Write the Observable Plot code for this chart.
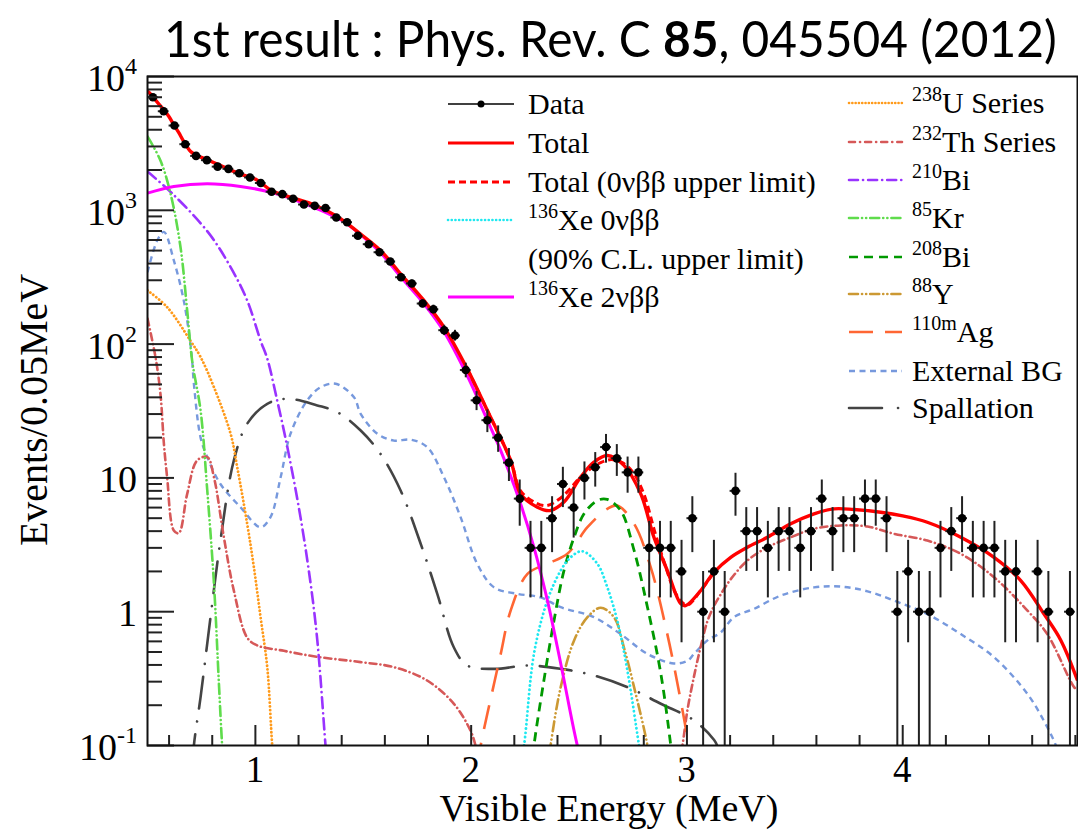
<!DOCTYPE html>
<html><head><meta charset="utf-8">
<script src="https://cdn.jsdelivr.net/npm/d3@7"></script>
<script src="https://cdn.jsdelivr.net/npm/@observablehq/plot@0.6"></script>
<style>
body{margin:0;background:#fff;}
#wrap{width:1078px;height:832px;position:relative;overflow:hidden;}
svg{display:block;}
#title{position:absolute;left:0;top:0;pointer-events:none;}
</style></head><body><div id="wrap"></div>
<script>
// ---------- Data (Events / 0.05 MeV) ----------
const dataE = [0.525,0.575,0.625,0.675,0.725,0.775,0.825,0.875,0.925,0.975,1.025,1.075,1.125,1.175,1.225,1.275,1.325,1.375,1.425,1.475,1.525,1.575,1.625,1.675,1.725,1.775,1.825,1.875,1.925,1.975,2.025,2.075,2.125,2.175,2.225,2.275,2.325,2.375,2.425,2.475,2.525,2.575,2.625,2.675,2.725,2.775,2.825,2.875,2.925,2.975,3.025,3.075,3.125,3.175,3.225,3.275,3.325,3.375,3.425,3.475,3.525,3.575,3.625,3.675,3.725,3.775,3.825,3.875,3.925,3.975,4.025,4.075,4.125,4.175,4.225,4.275,4.325,4.375,4.425,4.475,4.525,4.625,4.675,4.775];
const dataN = [7000,5500,4300,3120,2550,2370,2120,2040,1890,1760,1600,1375,1320,1220,1105,1080,1040,883,815,645,558,486,414,316,284,201,182,127,116,64,38,27,20,13,7,3,3,5,9,6,10,12,17,14,11,11,3,3,3,2,5,1,2,1,8,4,4,3,4,4,3,4,7,4,5,5,7,7,5,1,2,1,1,3,4,5,3,3,3,2,2,2,1,1];

// ---------- Fit curves ----------
const totalE = [0.50,0.506,0.55,0.576,0.60,0.622,0.645,0.668,0.70,0.722,0.777,0.85,0.931,1.0,1.078,1.178,1.271,1.379,1.472,1.58,1.673,1.781,1.874,1.982,2.075,2.183,2.229,2.307,2.365,2.43,2.507,2.569,2.631,2.708,2.786,2.847,2.909,2.971,2.994,3.064,3.125,3.203,3.28,3.373,3.481,3.589,3.682,3.774,3.898,4.0,4.114,4.269,4.423,4.547,4.655,4.733,4.81];
const totalV = [7760,7640,6300,5640,5000,4355,3800,3270,2750,2600,2385,2120,1862,1710,1397,1231,1100,900,695,501,335,212,134,65.3,31.9,13.5,7.6,6.04,5.7,6.6,10.1,13.1,14.7,12.4,7.6,3.6,2.03,1.15,1.11,1.44,1.97,2.55,3.03,3.6,4.54,5.39,5.87,5.8,5.54,5.2,4.66,3.6,2.55,1.71,0.96,0.61,0.306];
const totUlE = [1.982,2.075,2.183,2.229,2.3,2.35,2.4,2.45,2.5,2.55,2.6,2.65,2.7,2.75,2.8,2.85,2.9,2.95,3.0,3.064,3.125];
const totUlV = [65.3,31.9,13.5,8.0,6.5,6.2,6.8,8.0,9.9,11.6,13.0,13.7,13.0,11.0,7.6,4.0,2.2,1.35,1.12,1.44,1.97];
const xe0vE = [2.22,2.245,2.291,2.353,2.415,2.461,2.515,2.585,2.631,2.677,2.724,2.778,2.80];
const xe0vV = [0.06,0.1,0.484,1.21,2.03,2.55,2.83,2.28,1.52,0.86,0.364,0.1,0.06];
const xe2vE = [0.5,0.622,0.777,0.931,1.086,1.24,1.395,1.488,1.58,1.673,1.781,1.874,1.982,2.075,2.137,2.229,2.291,2.353,2.415,2.492,2.52];
const xe2vV = [1343,1507,1578,1507,1343,1100,849,656,482,318,200,124,58,27,16,6.4,3.03,1.22,0.41,0.1,0.07];
const u238E = [0.5,0.591,0.699,0.746,0.808,0.885,0.916,0.962,0.993,1.024,1.055,1.078,1.09];
const u238V = [252,189,106,80,47.6,21.4,12.0,4.54,2.15,0.91,0.385,0.1,0.06];
const th232E = [0.5,0.537,0.56,0.576,0.591,0.622,0.645,0.684,0.73,0.777,0.808,0.854,0.90,0.962,1.008,1.132,1.286,1.488,1.642,1.796,1.92,1.997,2.02,2.03];
const th232V = [155,80,42.5,18,10.1,4.04,3.86,7.6,13.5,14.3,10.1,3.6,1.44,0.64,0.56,0.51,0.46,0.42,0.385,0.306,0.205,0.129,0.1,0.08];
const th232hiE = [2.96,2.979,3.002,3.033,3.064,3.095,3.125,3.157,3.203,3.28,3.373,3.481,3.589,3.713,3.837,3.96,4.114,4.269,4.423,4.578,4.67,4.794,4.81];
const th232hiV = [0.07,0.1,0.183,0.33,0.55,0.85,1.1,1.35,1.75,2.41,3.03,3.6,4.17,4.41,4.33,3.82,3.4,2.71,1.81,1.02,0.68,0.273,0.26];
const bi210E = [0.5,0.622,0.784,0.885,0.962,1.024,1.055,1.101,1.148,1.209,1.256,1.287,1.325,1.34];
const bi210V = [1950,1300,675,376,212,106,78,37.9,17,5.09,1.62,0.61,0.1,0.05];
const kr85E = [0.5,0.56,0.607,0.653,0.684,0.707,0.746,0.777,0.808,0.831,0.846,0.86];
const kr85V = [3565,2355,1327,530,178,75,31.9,8.05,1.62,0.289,0.1,0.05];
const bi208E = [2.27,2.291,2.337,2.384,2.43,2.477,2.523,2.585,2.631,2.693,2.755,2.817,2.879,2.925,2.94];
const bi208V = [0.05,0.1,0.306,0.86,2.03,3.6,5.39,6.78,6.9,5.7,2.87,1.08,0.344,0.1,0.06];
const y88E = [2.35,2.368,2.415,2.477,2.539,2.6,2.662,2.708,2.755,2.817,2.83];
const y88V = [0.06,0.1,0.273,0.61,0.91,1.07,0.91,0.54,0.273,0.1,0.07];
const ag110E = [2.03,2.044,2.106,2.137,2.183,2.261,2.353,2.446,2.539,2.631,2.677,2.755,2.832,2.909,2.971,3.009,3.02];
const ag110V = [0.07,0.1,0.289,0.484,1.02,1.92,2.28,2.71,4.28,5.87,6.22,4.54,2.15,0.68,0.217,0.1,0.08];
const extE = [0.5,0.545,0.576,0.622,0.668,0.699,0.707,0.715,0.746,0.777,0.838,0.931,1.024,1.07,1.117,1.163,1.24,1.302,1.372,1.457,1.488,1.565,1.642,1.719,1.796,1.874,1.951,2.028,2.106,2.214,2.322,2.415,2.569,2.693,2.817,2.94,3.002,3.033,3.095,3.157,3.218,3.311,3.435,3.589,3.713,3.837,3.96,4.114,4.269,4.423,4.578,4.67,4.71,4.73];
const extV = [344,594,690,422,212,100,75,50.5,20,14.3,9.0,6.04,4.28,5.09,10.1,21.4,37.9,47.6,50.5,40.1,30.1,21.4,19.0,19.3,17,10.1,5.09,2.28,1.52,1.36,1.28,1.08,0.91,0.68,0.484,0.41,0.43,0.484,0.61,0.70,0.91,1.05,1.32,1.52,1.54,1.42,1.21,0.96,0.68,0.457,0.243,0.137,0.1,0.08];
const spallE = [0.71,0.715,0.746,0.792,0.838,0.9,0.962,1.055,1.148,1.287,1.38,1.488,1.58,1.673,1.766,1.843,1.92,1.982,2.106,2.261,2.415,2.569,2.724,2.879,3.033,3.126,3.14];
const spallV = [0.07,0.1,0.23,0.91,3.4,13.5,25.4,35.8,39,34.8,31,22.6,15.1,8.05,3.22,1.36,0.54,0.396,0.374,0.396,0.374,0.334,0.273,0.205,0.154,0.11,0.1];

// ---------- Ticks and labels ----------
const xMajor = [1,2,3,4];
const xMinor = [0.6,0.8,1.2,1.4,1.6,1.8,2.2,2.4,2.6,2.8,3.2,3.4,3.6,3.8,4.2,4.4,4.6,4.8];
const xTickLabels = ["1","2","3","4"];
const yMajor = [0.1,1,10,100,1000,10000];
const yMinor = [0.2,0.3,0.4,0.5,0.6,0.7,0.8,0.9,2,3,4,5,6,7,8,9,20,30,40,50,60,70,80,90,200,300,400,500,600,700,800,900,2000,3000,4000,5000,6000,7000,8000,9000];
const yLabelBase = ["10","1","10","10","10","10"];
const yLabelExp = ["-1","","","2","3","4"];

const colors = {total:"#ff0000", xe0v:"#1ee8f0", xe2v:"#ff00ff", u238:"#ff9a1a", th232:"#d65858", bi210:"#9933ff", kr85:"#5fdc4c", bi208:"#009900", y88:"#cc9933", ag110:"#ff6633", ext:"#7799dd", spall:"#444444"};
// [dasharray, linecap]
const styles = {totalUl:["7,4","butt"], xe0v:["0.1,4.2","round"], u238:["0.1,3.6","round"], th232:["7,4,0.1,4","round"], bi210:["11,5,0.1,5","round"], kr85:["10,4,0.1,4,0.1,4","round"], bi208:["9,6","butt"], y88:["10,4,0.1,4,0.1,4","round"], ag110:["24,14","butt"], ext:["6,4.5","butt"], spall:["32,13,0.1,13","round"]};

const rows = (E, V) => E.map((e, i) => ({E: e, V: V[i]}));
const data = dataE.map((e, i) => ({E: e, N: dataN[i]}));

function curve(E, V, stroke, st, w) {
  return Plot.line(rows(E, V), {x: "E", y: "V", stroke, strokeWidth: w || 2.6,
    strokeDasharray: st ? st[0] : null, strokeLinecap: st ? st[1] : "butt",
    curve: "catmull-rom", clip: true});
}

const W = 1078, H = 832;
const plot = Plot.plot({
  width: W, height: H,
  marginTop: 76, marginBottom: 87, marginLeft: 147, marginRight: 1,
  x: {domain: [0.5, 4.81], axis: null},
  y: {type: "log", domain: [0.1, 10000], axis: null},
  style: {background: "white"},
  marks: [
    curve(extE, extV, colors.ext, styles.ext, 2.4),
    curve(spallE, spallV, colors.spall, styles.spall, 2.6),
    curve(u238E, u238V, colors.u238, styles.u238, 2.8),
    curve(th232E, th232V, colors.th232, styles.th232, 2.6),
    curve(th232hiE, th232hiV, colors.th232, styles.th232, 2.6),
    curve(bi210E, bi210V, colors.bi210, styles.bi210, 2.6),
    curve(kr85E, kr85V, colors.kr85, styles.kr85, 2.6),
    curve(ag110E, ag110V, colors.ag110, styles.ag110, 2.6),
    curve(y88E, y88V, colors.y88, styles.y88, 2.6),
    curve(bi208E, bi208V, colors.bi208, styles.bi208, 2.8),
    curve(xe0vE, xe0vV, colors.xe0v, styles.xe0v, 2.8),
    curve(xe2vE, xe2vV, colors.xe2v, null, 3),
    curve(totUlE, totUlV, colors.total, styles.totalUl, 3),
    curve(totalE, totalV, colors.total, null, 3.4),
    Plot.ruleX(data, {x: "E", y1: d => Math.max(d.N - Math.sqrt(d.N), 0.01), y2: d => d.N + Math.sqrt(d.N), stroke: "#222", strokeWidth: 2, clip: true}),
    Plot.ruleY(data, {y: "N", x1: d => d.E - 0.025, x2: d => d.E + 0.025, stroke: "#222", strokeWidth: 2, clip: true}),
    Plot.dot(data, {x: "E", y: "N", r: 4.3, fill: "black", stroke: "none", clip: true}),
    Plot.tickX(xMajor, {x: d => d, insetTop: 649, stroke: "#222", strokeWidth: 2}),
    Plot.tickX(xMinor, {x: d => d, insetTop: 659, stroke: "#222", strokeWidth: 2}),
    Plot.tickY(yMajor, {y: d => d, insetRight: 903, stroke: "#222", strokeWidth: 2}),
    Plot.tickY(yMinor, {y: d => d, insetRight: 915, stroke: "#222", strokeWidth: 2}),
    Plot.frame({stroke: "#111", strokeWidth: 2})
  ]
});

const wrap = document.getElementById("wrap");
wrap.appendChild(plot);

// ---------- Title (overlay at the top of the page) ----------
const tsvg = d3.create("svg").attr("id", "title").attr("width", W).attr("height", 70);
const tt = tsvg.append("text").attr("x", 0).attr("y", 0).attr("text-anchor", "start")
  .attr("font-family", "Lato, 'Open Sans', sans-serif").attr("font-size", 50)
  .attr("fill", "black").style("white-space", "pre");
tt.append("tspan").text("1st result : Phys. Rev. C ");
tt.append("tspan").attr("font-weight", "bold").text("85");
tt.append("tspan").text(", 045504 (2012)");
wrap.appendChild(tsvg.node());
const natural = tt.node().getComputedTextLength() || 893;
tt.attr("transform", `translate(164,57) scale(${893 / natural},1)`);

// ---------- Axis labels ----------
const svg = d3.select(plot);
const sx = plot.scale("x"), sy = plot.scale("y");
const serif = "'Liberation Serif','Times New Roman',serif";

yMajor.forEach((v, i) => {
  const t = svg.append("text").attr("x", 137).attr("y", sy.apply(v) + 15)
    .attr("text-anchor", "end").attr("font-family", serif).attr("font-size", 38).attr("fill", "black");
  t.append("tspan").text(yLabelBase[i]);
  if (yLabelExp[i]) t.append("tspan").attr("font-size", 24).attr("dy", -17).text(yLabelExp[i]);
});
xMajor.forEach((v, i) => {
  svg.append("text").attr("x", sx.apply(v)).attr("y", 782)
    .attr("text-anchor", "middle").attr("font-family", serif).attr("font-size", 37).attr("fill", "black")
    .text(xTickLabels[i]);
});
svg.append("text").attr("x", 609).attr("y", 821).attr("text-anchor", "middle")
  .attr("font-family", serif).attr("font-size", 38).attr("fill", "black").text("Visible Energy (MeV)");
svg.append("text").attr("transform", "translate(47,410) rotate(-90)").attr("text-anchor", "middle")
  .attr("font-family", serif).attr("font-size", 40).attr("fill", "black").text("Events/0.05MeV");

// ---------- Legend ----------
function label(x, y, segs) {
  const t = svg.append("text").attr("x", x).attr("y", y + 10).attr("text-anchor", "start")
    .attr("font-family", serif).attr("font-size", 30).attr("fill", "black").style("white-space", "pre");
  let raised = false;
  segs.forEach(([s, sup]) => {
    const sp = t.append("tspan").text(s);
    if (sup) { sp.attr("font-size", 20).attr("dy", -12); raised = true; }
    else if (raised) { sp.attr("dy", 12); raised = false; }
  });
}
function sample(x1, x2, y, stroke, st, w) {
  svg.append("line").attr("x1", x1).attr("x2", x2).attr("y1", y).attr("y2", y)
    .attr("stroke", stroke).attr("stroke-width", w)
    .attr("stroke-dasharray", st ? st[0] : null).attr("stroke-linecap", st ? st[1] : "butt");
}
const col1 = [
  {y: 104, kind: "data", segs: [["Data"]]},
  {y: 143, stroke: colors.total, w: 3, segs: [["Total"]]},
  {y: 182, stroke: colors.total, w: 3, st: styles.totalUl, segs: [["Total (0νββ upper limit)"]]},
  {y: 220, stroke: colors.xe0v, w: 2.6, st: ["0.1,3.6","round"], segs: [["136", 1], ["Xe 0νββ"]]},
  {y: 259, segs: [["(90% C.L. upper limit)"]]},
  {y: 297, stroke: colors.xe2v, w: 3, segs: [["136", 1], ["Xe 2νββ"]]}
];
col1.forEach(it => {
  if (it.kind === "data") {
    sample(448, 514, it.y, "black", null, 1.6);
    svg.append("circle").attr("cx", 481).attr("cy", it.y).attr("r", 3.5).attr("fill", "black");
  } else if (it.stroke) sample(448, 514, it.y, it.stroke, it.st, it.w);
  label(528, it.y, it.segs);
});
const col2 = [
  {y: 103, c: colors.u238, st: ["0.1,3.2","round"], segs: [["238", 1], ["U Series"]]},
  {y: 142, c: colors.th232, st: ["6,5,0.1,5","round"], segs: [["232", 1], ["Th Series"]]},
  {y: 180, c: colors.bi210, st: ["9,5,0.1,5","round"], segs: [["210", 1], ["Bi"]]},
  {y: 218, c: colors.kr85, st: ["9,4,0.1,4,0.1,4","round"], segs: [["85", 1], ["Kr"]]},
  {y: 257, c: colors.bi208, st: ["9,6","butt"], segs: [["208", 1], ["Bi"]]},
  {y: 294, c: colors.y88, st: ["9,4,0.1,4,0.1,4","round"], segs: [["88", 1], ["Y"]]},
  {y: 332, c: colors.ag110, st: ["24,12","butt"], segs: [["110m", 1], ["Ag"]]},
  {y: 371, c: colors.ext, st: ["6,4.5","butt"], segs: [["External BG"]]},
  {y: 408, c: colors.spall, st: ["33,16,0.1,20","round"], segs: [["Spallation"]]}
];
col2.forEach(it => {
  sample(849, 902, it.y, it.c, it.st, 2.6);
  label(912, it.y, it.segs);
});
</script></body></html>
